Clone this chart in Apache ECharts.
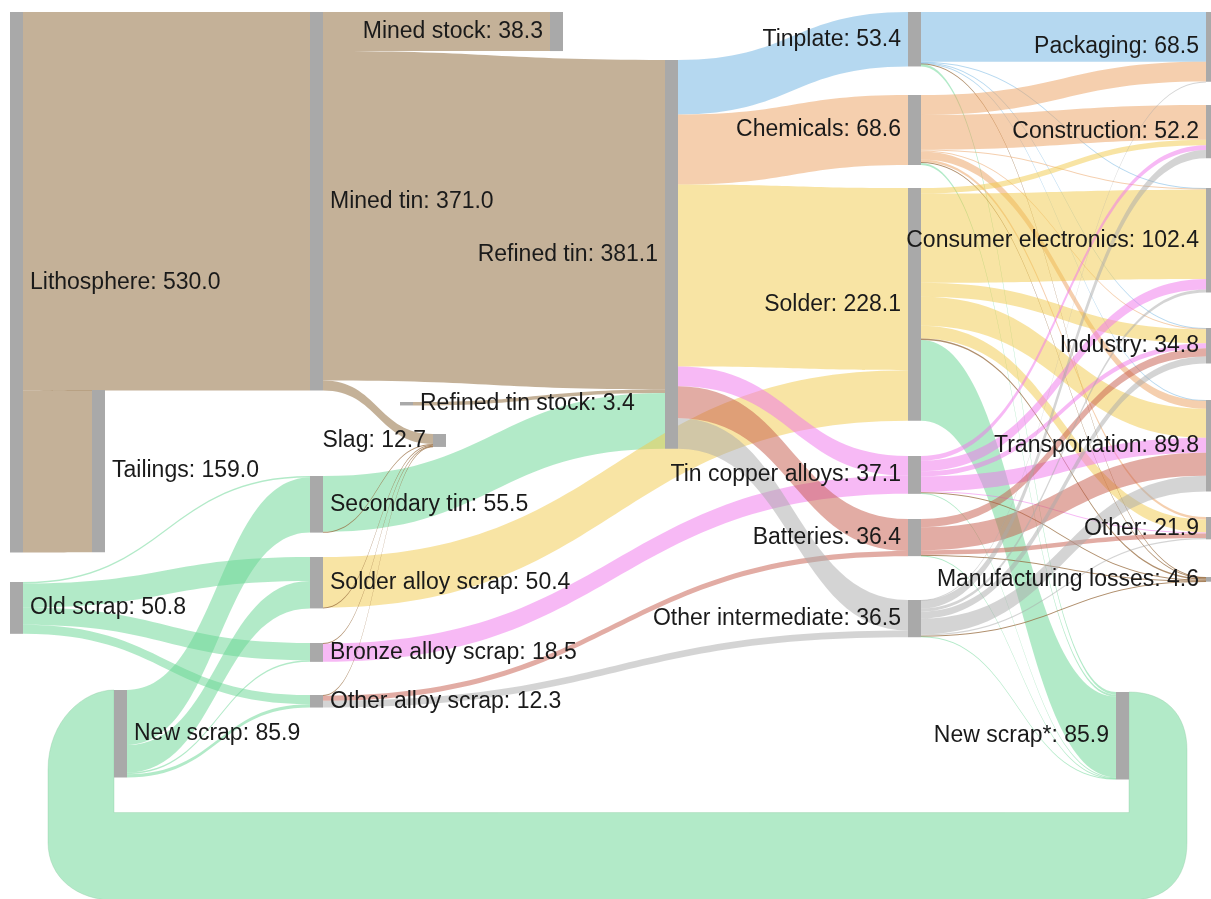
<!DOCTYPE html>
<html>
<head>
<meta charset="utf-8">
<script src="https://cdn.jsdelivr.net/npm/echarts@6/dist/echarts.min.js"></script>
<style>html,body{margin:0;padding:0;background:#fff}#chart{width:1211px;height:899px}</style>
</head>
<body>
<div id="chart"></div>
<script>
// ---------------- DATA ----------------
const nodeNames = [
  'Lithosphere', 'Old scrap', 'New scrap',
  'Mined tin', 'Tailings', 'Refined tin stock', 'Secondary tin', 'Solder alloy scrap', 'Bronze alloy scrap', 'Other alloy scrap',
  'Mined stock', 'Refined tin',
  'Tinplate', 'Chemicals', 'Solder', 'Slag', 'Tin copper alloys', 'Batteries', 'Other intermediate',
  'Packaging', 'Construction', 'Consumer electronics', 'Industry', 'Transportation', 'Other', 'Manufacturing losses', 'New scrap*'
];
const nodeValues = [
  530.0, 50.8, 85.9,
  371.0, 159.0, 3.4, 55.5, 50.4, 18.5, 12.3,
  38.3, 381.1,
  53.4, 68.6, 228.1, 12.7, 37.1, 36.4, 36.5,
  68.5, 52.2, 102.4, 34.8, 89.8, 21.9, 4.6, 85.9
];

const linkSources = [
  'Lithosphere', 'Lithosphere',
  'Mined tin', 'Mined tin', 'Mined tin',
  'Refined tin stock',
  'Old scrap', 'Old scrap', 'Old scrap', 'Old scrap',
  'New scrap', 'New scrap', 'New scrap', 'New scrap',
  'Secondary tin', 'Secondary tin',
  'Solder alloy scrap', 'Solder alloy scrap',
  'Bronze alloy scrap', 'Bronze alloy scrap',
  'Other alloy scrap', 'Other alloy scrap', 'Other alloy scrap',
  'Refined tin', 'Refined tin', 'Refined tin', 'Refined tin', 'Refined tin', 'Refined tin',
  'Tinplate', 'Tinplate', 'Tinplate', 'Tinplate', 'Tinplate', 'Tinplate',
  'Chemicals', 'Chemicals', 'Chemicals', 'Chemicals', 'Chemicals', 'Chemicals', 'Chemicals', 'Chemicals',
  'Solder', 'Solder', 'Solder', 'Solder', 'Solder', 'Solder', 'Solder',
  'Tin copper alloys', 'Tin copper alloys', 'Tin copper alloys', 'Tin copper alloys', 'Tin copper alloys', 'Tin copper alloys', 'Tin copper alloys',
  'Batteries', 'Batteries', 'Batteries', 'Batteries', 'Batteries',
  'Other intermediate', 'Other intermediate', 'Other intermediate', 'Other intermediate', 'Other intermediate', 'Other intermediate', 'Other intermediate', 'Other intermediate'
];
const linkTargets = [
  'Mined tin', 'Tailings',
  'Mined stock', 'Refined tin', 'Slag',
  'Refined tin',
  'Secondary tin', 'Solder alloy scrap', 'Bronze alloy scrap', 'Other alloy scrap',
  'Secondary tin', 'Solder alloy scrap', 'Bronze alloy scrap', 'Other alloy scrap',
  'Refined tin', 'Slag',
  'Solder', 'Slag',
  'Tin copper alloys', 'Slag',
  'Slag', 'Batteries', 'Other intermediate',
  'Tinplate', 'Chemicals', 'Solder', 'Tin copper alloys', 'Batteries', 'Other intermediate',
  'Packaging', 'Consumer electronics', 'Industry', 'Transportation', 'Manufacturing losses', 'New scrap*',
  'Packaging', 'Construction', 'Consumer electronics', 'Industry', 'Transportation', 'Other', 'Manufacturing losses', 'New scrap*',
  'Construction', 'Consumer electronics', 'Industry', 'Transportation', 'Other', 'Manufacturing losses', 'New scrap*',
  'Construction', 'Consumer electronics', 'Industry', 'Transportation', 'Other', 'Manufacturing losses', 'New scrap*',
  'Industry', 'Transportation', 'Other', 'Manufacturing losses', 'New scrap*',
  'Packaging', 'Construction', 'Consumer electronics', 'Industry', 'Transportation', 'Other', 'Manufacturing losses', 'New scrap*'
];
const linkValues = [
  371.0, 159.0,
  38.3, 323.0, 9.7,
  3.4,
  1.5, 23.5, 16.8, 9.0,
  54.0, 26.9, 1.7, 3.3,
  54.7, 0.8,
  49.5, 0.9,
  17.9, 0.6,
  0.7, 5.0, 6.6,
  53.4, 68.6, 178.6, 19.2, 31.4, 29.9,
  48.7, 0.6, 0.6, 0.5, 0.5, 2.5,
  19.5, 34.0, 1.0, 0.8, 8.0, 2.5, 0.8, 2.0,
  5.5, 87.5, 13.5, 28.5, 12.6, 1.5, 79.0,
  4.5, 10.5, 5.0, 14.6, 1.0, 0.6, 0.9,
  8.0, 22.6, 4.6, 0.6, 0.6,
  0.3, 8.2, 2.8, 6.9, 15.6, 1.2, 0.6, 0.9
];
// circular flow drawn around the diagram
const loopSource = 'New scrap*';
const loopTarget = 'New scrap';
const loopValue = 85.9;

// ---------------- LAYOUT / STYLE ----------------
const W = 1211;
const KY = 1.02;          // px per unit
const NODE_W = 13;
const nodeDepth = {
  'Lithosphere': 0, 'Old scrap': 0, 'New scrap': 0,
  'Mined tin': 1, 'Tailings': 1, 'Refined tin stock': 1, 'Secondary tin': 1, 'Solder alloy scrap': 1, 'Bronze alloy scrap': 1, 'Other alloy scrap': 1,
  'Mined stock': 2, 'Refined tin': 2,
  'Tinplate': 3, 'Chemicals': 3, 'Solder': 3, 'Slag': 3, 'Tin copper alloys': 3, 'Batteries': 3, 'Other intermediate': 3,
  'Packaging': 4, 'Construction': 4, 'Consumer electronics': 4, 'Industry': 4, 'Transportation': 4, 'Other': 4, 'Manufacturing losses': 4, 'New scrap*': 4
};
const nodePos = {
  'Lithosphere': [10, 12], 'Old scrap': [10, 582], 'New scrap': [114, 690],
  'Mined tin': [310, 12], 'Tailings': [92, 390], 'Refined tin stock': [400, 402],
  'Secondary tin': [310, 476], 'Solder alloy scrap': [310, 557], 'Bronze alloy scrap': [310, 643], 'Other alloy scrap': [310, 695],
  'Mined stock': [550, 12], 'Refined tin': [665, 60], 'Slag': [433, 434],
  'Tinplate': [908, 12], 'Chemicals': [908, 95], 'Solder': [908, 188], 'Tin copper alloys': [908, 456], 'Batteries': [908, 519], 'Other intermediate': [908, 600],
  'Packaging': [1206, 12], 'Construction': [1206, 105], 'Consumer electronics': [1206, 188], 'Industry': [1206, 328],
  'Transportation': [1206, 400], 'Other': [1206, 517], 'Manufacturing losses': [1206, 577], 'New scrap*': [1116, 692]
};
const rightLabelNodes = ['Lithosphere', 'Old scrap', 'New scrap', 'Mined tin', 'Tailings', 'Refined tin stock',
  'Secondary tin', 'Solder alloy scrap', 'Bronze alloy scrap', 'Other alloy scrap'];

const C = {
  tan: 'rgba(157,125,83,0.6)',
  brown: 'rgba(150,105,60,0.75)',
  green: 'rgba(102,214,145,0.5)',
  blue: 'rgba(107,177,225,0.5)',
  orange: 'rgba(235,159,93,0.5)',
  yellow: 'rgba(241,201,73,0.5)',
  pink: 'rgba(240,115,236,0.5)',
  red: 'rgba(197,89,73,0.5)',
  gray: 'rgba(169,169,169,0.5)'
};
const nodeFlowColor = {
  'Tinplate': C.blue, 'Chemicals': C.orange, 'Solder': C.yellow, 'Tin copper alloys': C.pink,
  'Batteries': C.red, 'Other intermediate': C.gray
};
function linkColor(s, t) {
  if (t === 'New scrap*') return C.green;
  if (t === 'Manufacturing losses') return C.brown;
  if (['Lithosphere', 'Mined tin', 'Refined tin stock'].includes(s)) return C.tan;
  if (t === 'Slag') return C.brown;
  if (['Old scrap', 'New scrap', 'Secondary tin'].includes(s)) return C.green;
  if (nodeFlowColor[s]) return nodeFlowColor[s];
  return nodeFlowColor[t] || C.gray;
}

// scale: ECharts uses the most filled column; choose height so that it gives KY
const colSum = {};
nodeNames.forEach((n, i) => { const d = nodeDepth[n]; colSum[d] = (colSum[d] || 0) + nodeValues[i]; });
const maxSum = Math.max.apply(null, Object.values(colSum));
const H = KY * maxSum;

const nodes = nodeNames.map((n, i) => ({
  name: n,
  value: nodeValues[i],
  depth: nodeDepth[n],
  localX: nodePos[n][0] / W,
  localY: nodePos[n][1] / H,
  label: { position: rightLabelNodes.includes(n) ? 'right' : 'left' }
}));
const links = linkSources.map((s, i) => ({
  source: s, target: linkTargets[i], value: linkValues[i],
  lineStyle: { color: linkColor(s, linkTargets[i]), opacity: 1 }
}));

// circular loop outline derived from node positions and the flow value
function bez(pts, p0, p1, p2, p3) {
  for (let k = 1; k <= 16; k++) {
    const t = k / 16, u = 1 - t;
    pts.push([
      u*u*u*p0[0] + 3*u*u*t*p1[0] + 3*u*t*t*p2[0] + t*t*t*p3[0],
      u*u*u*p0[1] + 3*u*u*t*p1[1] + 3*u*t*t*p2[1] + t*t*t*p3[1]
    ]);
  }
}
function loopPoints() {
  const w = loopValue * KY;
  const sx = nodePos[loopSource][0] + NODE_W, sy0 = nodePos[loopSource][1], sy1 = sy0 + w;
  const tx = nodePos[loopTarget][0], ty0 = nodePos[loopTarget][1], ty1 = ty0 + w;
  const yi = Math.max(sy1, ty1) + 33;
  const yo = yi + w;
  const xr = sx + 58, xl = tx - 66;
  const pts = [[sx, sy0]];
  bez(pts, [sx, sy0], [sx + 36, sy0], [xr, sy0 + 22], [xr, sy0 + 58]);
  pts.push([xr, yo - 58]);
  bez(pts, [xr, yo - 58], [xr, yo - 20], [xr - 22, yo], [sx, yo]);
  pts.push([tx, yo]);
  bez(pts, [tx, yo], [tx - 36, yo], [xl, yo - 22], [xl, yo - 58]);
  pts.push([xl, ty0 + 80]);
  bez(pts, [xl, ty0 + 80], [xl, ty0 + 30], [tx - 30, ty0], [tx, ty0]);
  pts.push([tx, yi], [sx, yi], [sx, sy1]);
  return pts;
}

const chart = echarts.init(document.getElementById('chart'));
chart.setOption({
  animation: false,
  backgroundColor: '#fff',
  graphic: [{
    type: 'polygon', silent: true, z: 0,
    shape: { points: loopPoints() },
    style: { fill: C.green, stroke: 'rgba(140,200,160,0.35)', lineWidth: 1 }
  }],
  series: [{
    type: 'sankey',
    left: 0, top: 0, width: W, height: H,
    nodeWidth: NODE_W,
    nodeGap: 0,
    layoutIterations: 0,
    nodeAlign: 'left',
    draggable: false,
    emphasis: { disabled: true },
    itemStyle: { color: '#a9a9a9', borderWidth: 0 },
    lineStyle: { curveness: 0.5, opacity: 1 },
    label: {
      show: true, distance: 7,
      fontFamily: 'Liberation Sans, Arial, sans-serif', fontSize: 23, color: '#1a1a1a',
      formatter: p => p.name + ': ' + nodeValues[nodeNames.indexOf(p.name)].toFixed(1)
    },
    data: nodes,
    links: links
  }]
});
</script>
</body>
</html>
